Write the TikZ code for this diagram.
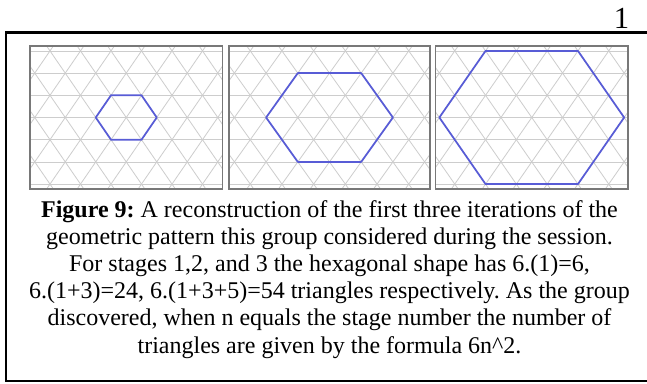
\documentclass[tikz,border=0pt]{standalone}
\usepackage{fontspec}
\setmainfont{Liberation Serif}
\definecolor{hexblue}{RGB}{88,92,214}
\definecolor{gridgray}{RGB}{205,205,205}
\definecolor{framegray}{RGB}{120,120,120}
\tikzset{
  gridline/.style={draw=gridgray, line width=0.6pt},
  panelframe/.style={draw=framegray, line width=1.1pt},
  hexline/.style={draw=hexblue, line width=1.3pt, line join=round},
  outerline/.style={draw=black, line width=1.6pt},
  captiontext/.style={align=center, font=\fontsize{18}{20.4}\selectfont\frenchspacing, inner sep=0pt},
}
\newcommand\drawpanel[4]{%
  \pgfmathsetmacro\pcx{(#1+#2)/2}%
  \def\pcy{117.5}\def\ph{22.2}%
  \begin{scope}
    \clip (#1,46) rectangle (#2,189);
    \foreach \k in {-3,...,3}
      \draw[gridline] (#1,\pcy+\k*\ph) -- (#2,\pcy+\k*\ph);
    \foreach \j in {-9,...,9} {
      \draw[gridline] (\pcx+\j*#3-4*#3,\pcy+8*\ph) -- (\pcx+\j*#3+4*#3,\pcy-8*\ph);
      \draw[gridline] (\pcx+\j*#3-4*#3,\pcy-8*\ph) -- (\pcx+\j*#3+4*#3,\pcy+8*\ph);
    }
  \end{scope}
  \draw[panelframe] (#1,46) rectangle (#2,189);
  \draw[hexline] (\pcx-#4*#3,\pcy) -- (\pcx-#4*#3/2,\pcy-#4*\ph) -- (\pcx+#4*#3/2,\pcy-#4*\ph)
     -- (\pcx+#4*#3,\pcy) -- (\pcx+#4*#3/2,\pcy+#4*\ph) -- (\pcx-#4*#3/2,\pcy+#4*\ph) -- cycle;
}
\begin{document}
\begin{tikzpicture}[x=0.75pt,y=-0.75pt]
\useasboundingbox (0,0) rectangle (647,383);
\fill[white] (0,0) rectangle (647,383);
% outer frame (open to the right)
\draw[outerline] (647,32.5) -- (6,32.5) -- (6,381) -- (647,381);
% page number
\node[font=\fontsize{23}{26}\selectfont, inner sep=0pt, anchor=base] (pagenum) at (621.5,28) {1};
% panels
\drawpanel{30}{222.5}{30.5}{1}
\drawpanel{229}{430}{31.7}{2}
\drawpanel{435.5}{628}{30.8}{3}
% caption
\node[captiontext, anchor=north] (caption) at (329.5,200) {%
\textbf{Figure 9:} A reconstruction of the first three iterations of the\\
geometric pattern this group considered during the session.\\
For stages 1,2, and 3 the hexagonal shape has 6.(1)=6,\\
6.(1+3)=24, 6.(1+3+5)=54 triangles respectively. As the group\\
discovered, when n equals the stage number the number of\\
triangles are given by the formula 6n\textasciicircum2.};
\end{tikzpicture}
\end{document}
